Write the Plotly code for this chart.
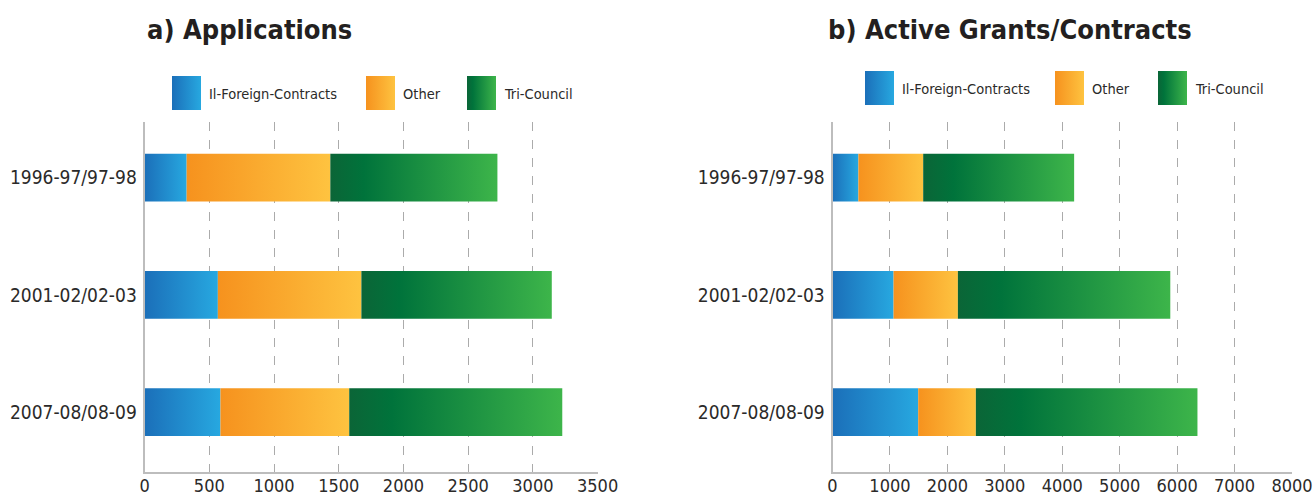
import base64
import plotly.graph_objects as go

# ---------------- data ----------------
categories = ["1996-97/97-98", "2001-02/02-03", "2007-08/08-09"]
series_names = ["Il-Foreign-Contracts", "Other", "Tri-Council"]

app_foreign = [325, 566, 586]
app_other = [1110, 1109, 995]
app_tricouncil = [1291, 1471, 1646]

act_foreign = [451, 1063, 1492]
act_other = [1128, 1120, 1004]
act_tricouncil = [2628, 3698, 3858]

app_ticks = [0, 500, 1000, 1500, 2000, 2500, 3000, 3500]
act_ticks = [0, 1000, 2000, 3000, 4000, 5000, 6000, 7000, 8000]

titles = ["a) Applications", "b) Active Grants/Contracts"]

# ---------------- style ----------------
W, H = 1315, 495
FONT = "DejaVu Sans Condensed, Liberation Sans Narrow, DejaVu Sans, sans-serif"
TXT = "#2b2a29"
gradients = [
    [[0, "#1b6fb9"], [1, "#27a8e0"]],
    [[0, "#f6921e"], [1, "#fec340"]],
    [[0, "#0b6537"], [0.2, "#00733b"], [1, "#3db54a"]],
]
BAR_HALF = 0.203

fig = go.Figure()


def add_stack(series, xa, ya):
    n = len(categories)
    base = [0] * n
    for s, vals in enumerate(series):
        for i in range(n):
            x0 = base[i]
            x1 = base[i] + vals[i]
            fig.add_trace(go.Scatter(
                x=[x0, x1, x1, x0, x0],
                y=[i - BAR_HALF, i - BAR_HALF, i + BAR_HALF, i + BAR_HALF, i - BAR_HALF],
                mode="none", fill="toself",
                fillgradient=dict(type="horizontal", colorscale=gradients[s]),
                xaxis=xa, yaxis=ya, showlegend=False,
                hoverinfo="text", text=f"{categories[i]} – {series_names[s]}: {vals[i]}",
            ))
            base[i] = x1


add_stack([app_foreign, app_other, app_tricouncil], "x", "y")
add_stack([act_foreign, act_other, act_tricouncil], "x2", "y2")

ydom = [(H - 472) / H, (H - 122) / H]
common_x = dict(
    showgrid=True, griddash="dash", gridcolor="#ababab", gridwidth=1,
    zeroline=False, showline=True, linecolor="#bdbdbd", linewidth=2,
    ticks="", automargin=False, ticklabelstandoff=-4,
    tickfont=dict(family=FONT, size=18, color=TXT), fixedrange=True,
)
common_y = dict(
    tickvals=list(range(len(categories))), ticktext=categories,
    range=[2.51, -0.474], showgrid=False, zeroline=False,
    showline=True, linecolor="#bdbdbd", linewidth=2, ticks="",
    ticklabelstandoff=2, automargin=False,
    tickfont=dict(family=FONT, size=19, color=TXT), domain=ydom, fixedrange=True,
)

fig.update_layout(
    width=W, height=H,
    margin=dict(l=0, r=0, t=0, b=0, autoexpand=False),
    paper_bgcolor="white", plot_bgcolor="white",
    showlegend=False,
    xaxis=dict(domain=[144.6 / W, 597.6 / W], range=[0, 3500], tickvals=app_ticks, **common_x),
    yaxis=dict(anchor="x", **common_y),
    xaxis2=dict(domain=[832.5 / W, 1292 / W], range=[0, 8000], tickvals=act_ticks, anchor="y2", **common_x),
    yaxis2=dict(anchor="x2", **common_y),
)

# titles
for tx, t in zip([145, 826], titles):
    fig.add_annotation(
        x=tx / W, y=1 - 29 / H, xref="paper", yref="paper", xanchor="left", yanchor="middle",
        text=f"<b>{t}</b>", showarrow=False,
        font=dict(family=FONT, size=27, color="#231f20"),
    )


# legends (gradient swatches + labels)
def swatch_uri(cs):
    stops = "".join(f'<stop offset="{o}" stop-color="{c}"/>' for o, c in cs)
    svg = ('<svg xmlns="http://www.w3.org/2000/svg" width="30" height="34" viewBox="0 0 30 34">'
           f'<defs><linearGradient id="g" x1="0" y1="0" x2="1" y2="0">{stops}</linearGradient></defs>'
           '<rect x="0" y="0" width="30" height="34" fill="url(#g)"/></svg>')
    return "data:image/svg+xml;base64," + base64.b64encode(svg.encode()).decode()


legend_rows = [
    (76, [172, 366, 467]),
    (71, [865, 1055, 1158]),
]
images = []
for top, xs in legend_rows:
    for s, sx in enumerate(xs):
        images.append(dict(
            source=swatch_uri(gradients[s]), xref="paper", yref="paper",
            x=sx / W, y=1 - top / H, sizex=29 / W, sizey=34 / H,
            xanchor="left", yanchor="top", sizing="stretch", layer="above",
        ))
        fig.add_annotation(
            x=(sx + 35) / W, y=1 - (top + 18) / H, xref="paper", yref="paper",
            xanchor="left", yanchor="middle", text=series_names[s], showarrow=False,
            font=dict(family=FONT, size=14.5, color=TXT),
        )
fig.update_layout(images=images)

fig.write_html(
    "out.html",
    config={"displayModeBar": False},
    post_script="document.body.style.margin='0';document.body.style.overflow='hidden';",
)
